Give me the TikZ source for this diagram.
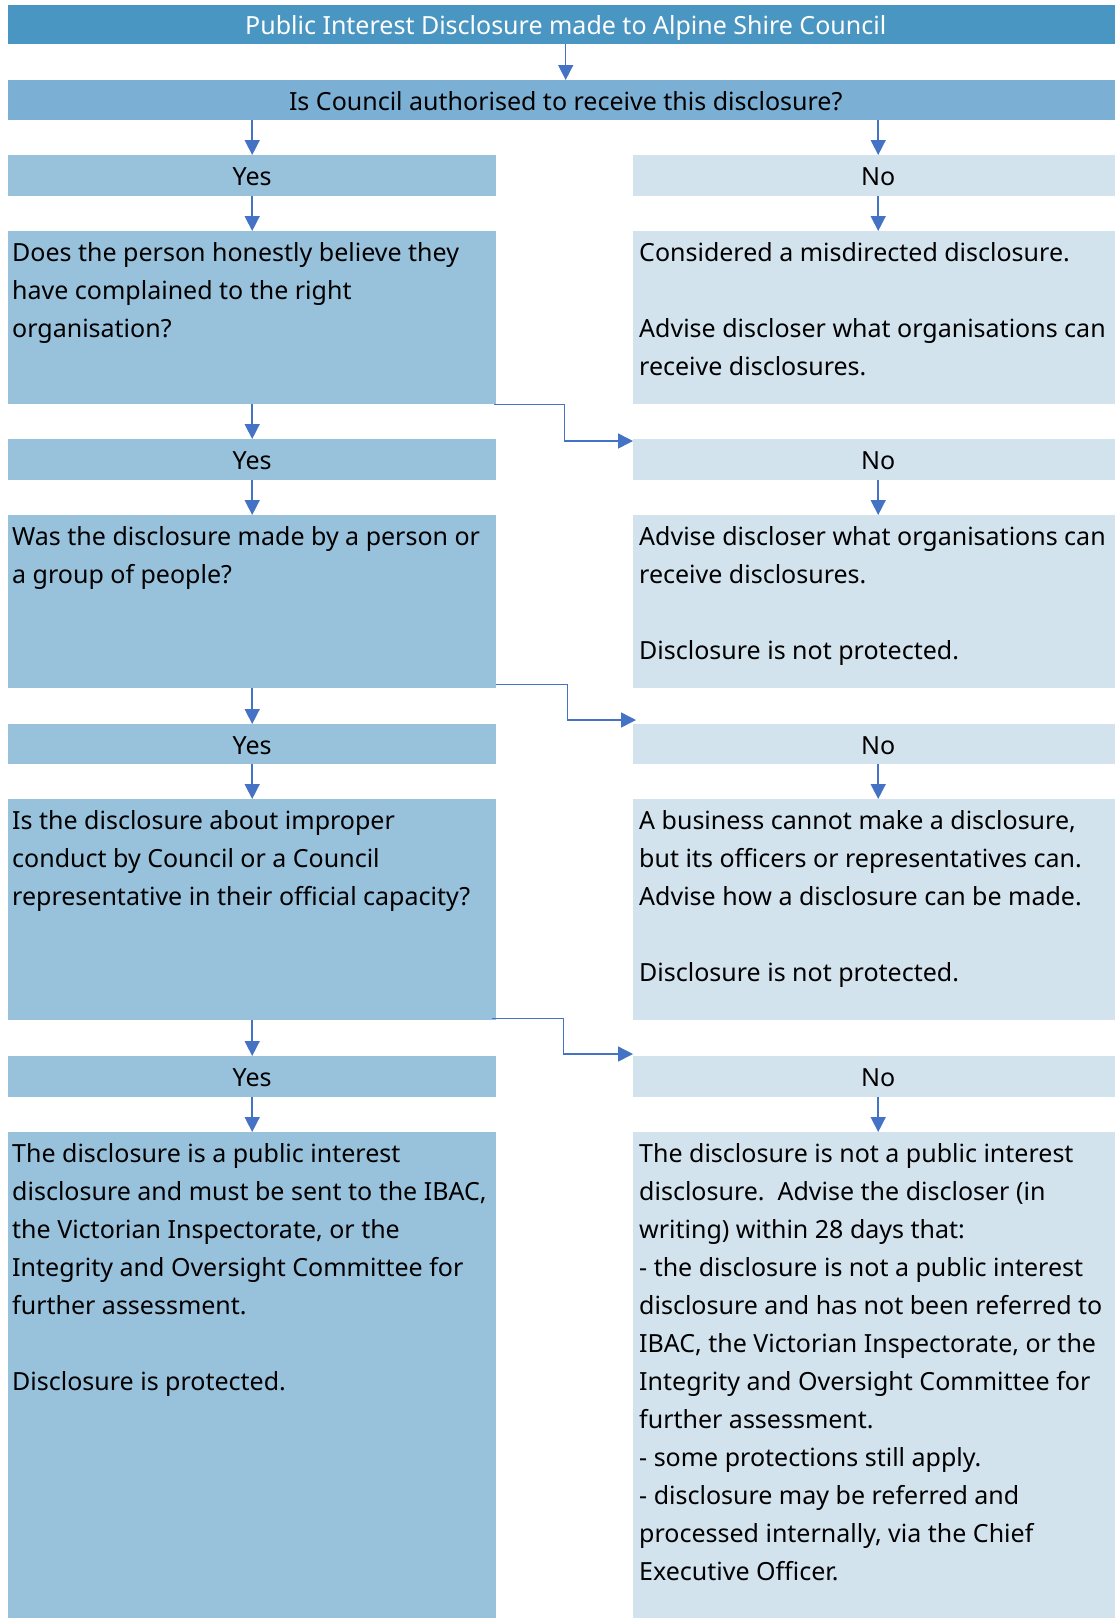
\documentclass[tikz,border=0pt]{standalone}
\usepackage{fontspec}
\setmainfont{Noto Sans}
\usepackage{tikz}
\usetikzlibrary{arrows.meta, positioning}
\definecolor{head}{RGB}{74, 150, 194}
\definecolor{ask}{RGB}{123, 175, 212}
\definecolor{yesfill}{RGB}{152, 193, 220}
\definecolor{nofill}{RGB}{211, 227, 238}
\definecolor{link}{RGB}{68, 114, 196}

\begin{document}
\begin{tikzpicture}[x=1pt, y=-1pt,
  bar/.style={rectangle, inner sep=0pt, anchor=north west, text height=20.4pt, text depth=0pt, font=\fontsize{25}{38}\selectfont},
  yesbox/.style={bar, fill=yesfill, minimum width=488pt},
  nobox/.style={bar, fill=nofill, minimum width=490pt},
  words/.style={anchor=north west, inner sep=0pt, align=left, execute at begin node={\rule{0pt}{24pt}}, font=\fontsize{25}{38}\selectfont},
  arr/.style={draw=link, line width=1.5pt, -{Triangle[length=15pt, width=15pt]}}]

  \useasboundingbox (0,0) rectangle (1115,1618);

  % top of the chart
  \node[bar, fill=head, text=white, minimum width=1115pt, minimum height=39pt] (top) at (8,5) {Public Interest Disclosure made to Alpine Shire Council};
  \node[bar, fill=ask, minimum width=1115pt, minimum height=40pt] (ask) at (8,80) {Is Council authorised to receive this disclosure?};

  % yes / no rows
  \node[yesbox, minimum height=41pt] (yes1) at (8,155) {Yes};
  \node[nobox, minimum height=41pt] (no1) at (633,155) {No};
  \node[yesbox, minimum height=41pt] (yes2) at (8,439) {Yes};
  \node[nobox, minimum height=41pt] (no2) at (633,439) {No};
  \node[yesbox, minimum height=40pt] (yes3) at (8,724) {Yes};
  \node[nobox, minimum height=40pt] (no3) at (633,724) {No};
  \node[yesbox, minimum height=41pt] (yes4) at (8,1056) {Yes};
  \node[nobox, minimum height=41pt] (no4) at (633,1056) {No};

  % text boxes
  \node[yesbox, minimum height=173pt] (b1L) at (8,231) {};
  \node[nobox, minimum height=173pt] (b1R) at (633,231) {};
  \node[yesbox, minimum height=173pt] (b2L) at (8,515) {};
  \node[nobox, minimum height=173pt] (b2R) at (633,515) {};
  \node[yesbox, minimum height=221pt] (b3L) at (8,799) {};
  \node[nobox, minimum height=221pt] (b3R) at (633,799) {};
  \node[yesbox, minimum height=486pt] (b4L) at (8,1132) {};
  \node[nobox, minimum height=486pt] (b4R) at (633,1132) {};

  \node[words] (t1L) at ([shift={(4pt,-11pt)}]b1L.north west) {Does the person honestly believe they\\have complained to the right\\organisation?};
  \node[words] (t1R) at ([shift={(6pt,-11pt)}]b1R.north west) {Considered a misdirected disclosure.\\[38pt]Advise discloser what organisations can\\receive disclosures.};
  \node[words] (t2L) at ([shift={(4pt,-11pt)}]b2L.north west) {Was the disclosure made by a person or\\a group of people?};
  \node[words] (t2R) at ([shift={(6pt,-11pt)}]b2R.north west) {Advise discloser what organisations can\\receive disclosures.\\[38pt]Disclosure is not protected.};
  \node[words] (t3L) at ([shift={(4pt,-11pt)}]b3L.north west) {Is the disclosure about improper\\conduct by Council or a Council\\representative in their official capacity?};
  \node[words] (t3R) at ([shift={(6pt,-11pt)}]b3R.north west) {A business cannot make a disclosure,\\but its officers or representatives can.\\Advise how a disclosure can be made.\\[38pt]Disclosure is not protected.};
  \node[words] (t4L) at ([shift={(4pt,-11pt)}]b4L.north west) {The disclosure is a public interest\\disclosure and must be sent to the IBAC,\\the Victorian Inspectorate, or the\\Integrity and Oversight Committee for\\further assessment.\\[38pt]Disclosure is protected.};
  \node[words] (t4R) at ([shift={(6pt,-11pt)}]b4R.north west) {The disclosure is not a public interest\\disclosure.\ \ Advise the discloser (in\\writing) within 28 days that:\\- the disclosure is not a public interest\\disclosure and has not been referred to\\IBAC, the Victorian Inspectorate, or the\\Integrity and Oversight Committee for\\further assessment.\\- some protections still apply.\\- disclosure may be referred and\\processed internally, via the Chief\\Executive Officer.};

  % straight arrows
  \draw[arr] (top.south) -- (ask.north);
  \draw[arr] (ask.south -| yes1.north) -- (yes1.north);
  \draw[arr] (ask.south -| no1.north) -- (no1.north);
  \foreach \row in {1,2,3,4} {
    \draw[arr] (yes\row.south) -- (b\row L.north);
    \draw[arr] (no\row.south) -- (b\row R.north);
  }
  \draw[arr] (b1L.south) -- (yes2.north);
  \draw[arr] (b2L.south) -- (yes3.north);
  \draw[arr] (b3L.south) -- (yes4.north);

  % elbow arrows to the no column
  \draw[arr] ([xshift=-2pt]b1L.south east) -- ++(70pt,0) |- ([yshift=-2pt]no2.north west);
  \draw[arr] ([yshift=4pt]b2L.south east) -- ++(71pt,0) |- ([shift={(3pt,4pt)}]no3.north west);
  \draw[arr] ([shift={(-4pt,2pt)}]b3L.south east) -- ++(71pt,0) |- ([yshift=2pt]no4.north west);

\end{tikzpicture}
\end{document}
